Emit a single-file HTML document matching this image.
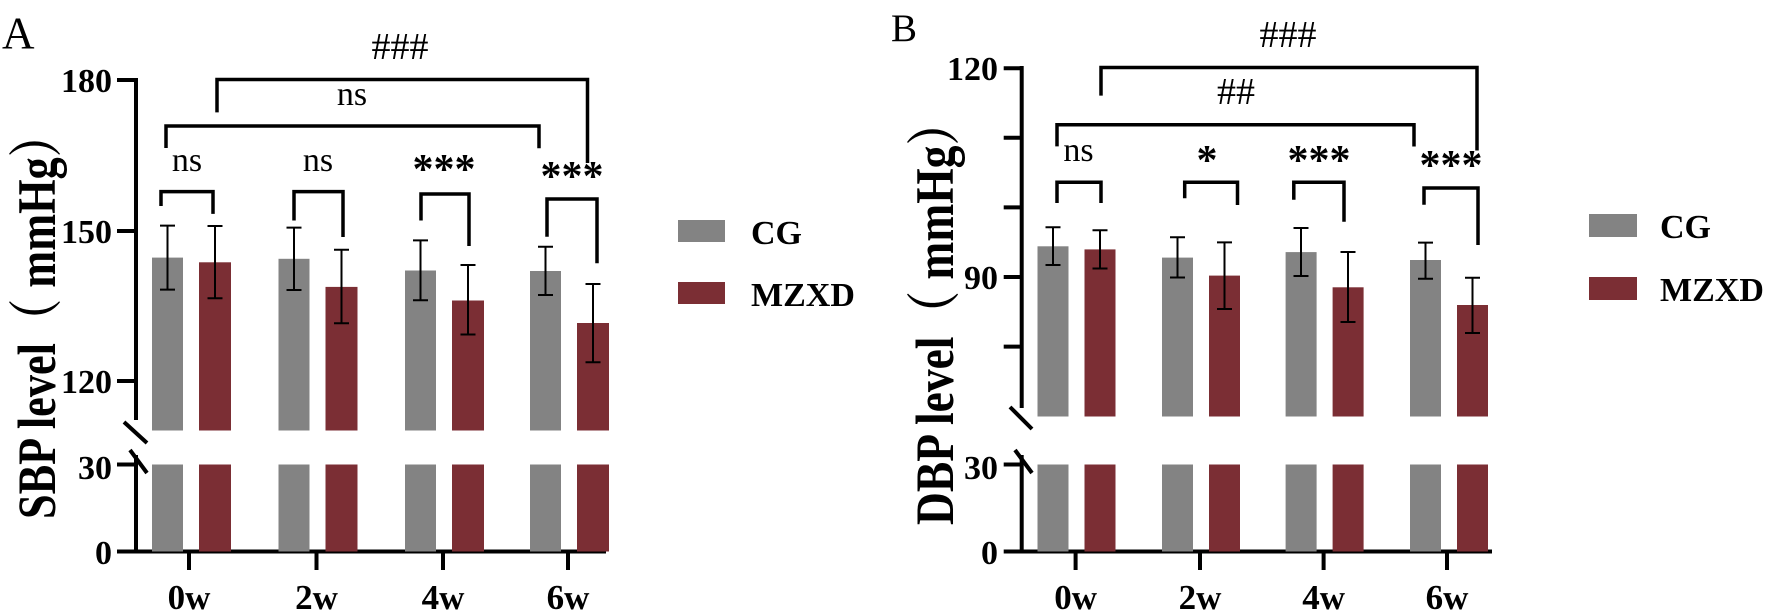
<!DOCTYPE html>
<html><head><meta charset="utf-8"><style>
html,body{margin:0;padding:0;background:#fff}
svg{display:block}
text{font-family:"Liberation Serif","Noto Serif CJK SC",serif;fill:#000}
.b{font-weight:bold}
</style></head><body>
<svg width="1772" height="612" viewBox="0 0 1772 612" xmlns="http://www.w3.org/2000/svg">
<g stroke="#000" fill="none" stroke-linecap="butt">
<path d="M136 78 V420" stroke-width="4"/>
<path d="M136 455 V551.5" stroke-width="4"/>
<path d="M117 80 H136 M117 231 H136 M117 381 H136 M117 464.5 H136" stroke-width="4"/>
<path d="M117 551.5 H606" stroke-width="4"/>
<path d="M189 551 V570 M316.5 551 V570 M443 551 V570 M568 551 V570" stroke-width="4"/>
<path d="M124 422 L147 443 M130 450 L147 473" stroke-width="4"/>
<path d="M1021.7 66 V408" stroke-width="4"/>
<path d="M1021.7 455 V551.5" stroke-width="4"/>
<path d="M1003.7 68.3 H1021.7 M1003.7 137.8 H1021.7 M1003.7 207.4 H1021.7 M1003.7 277 H1021.7 M1003.7 346.6 H1021.7 M1003.7 464.5 H1021.7" stroke-width="4"/>
<path d="M1003.7 551.5 H1492" stroke-width="4"/>
<path d="M1075.6 551 V570 M1200 551 V570 M1323.6 551 V570 M1447 551 V570" stroke-width="4"/>
<path d="M1010 407 L1032 429 M1015 450 L1032 473" stroke-width="4"/>
</g>

<g>
<rect x="152" y="257.6" width="31" height="172.9" fill="#838383"/><rect x="152" y="464.5" width="31" height="87" fill="#838383"/>
<rect x="199" y="262.3" width="32" height="168.2" fill="#7b2e34"/><rect x="199" y="464.5" width="32" height="87" fill="#7b2e34"/>
<rect x="278.5" y="258.8" width="31" height="171.7" fill="#838383"/><rect x="278.5" y="464.5" width="31" height="87" fill="#838383"/>
<rect x="325.5" y="286.9" width="32" height="143.6" fill="#7b2e34"/><rect x="325.5" y="464.5" width="32" height="87" fill="#7b2e34"/>
<rect x="405" y="270.5" width="31" height="160" fill="#838383"/><rect x="405" y="464.5" width="31" height="87" fill="#838383"/>
<rect x="452" y="300.5" width="32" height="130" fill="#7b2e34"/><rect x="452" y="464.5" width="32" height="87" fill="#7b2e34"/>
<rect x="530" y="271" width="31" height="159.5" fill="#838383"/><rect x="530" y="464.5" width="31" height="87" fill="#838383"/>
<rect x="577" y="323" width="32" height="107.5" fill="#7b2e34"/><rect x="577" y="464.5" width="32" height="87" fill="#7b2e34"/>
</g>
<g>
<rect x="1037.5" y="246.3" width="31" height="170.2" fill="#838383"/><rect x="1037.5" y="464.5" width="31" height="87" fill="#838383"/>
<rect x="1084.5" y="249.4" width="31" height="167.1" fill="#7b2e34"/><rect x="1084.5" y="464.5" width="31" height="87" fill="#7b2e34"/>
<rect x="1162" y="257.6" width="31" height="158.9" fill="#838383"/><rect x="1162" y="464.5" width="31" height="87" fill="#838383"/>
<rect x="1209" y="275.6" width="31" height="140.9" fill="#7b2e34"/><rect x="1209" y="464.5" width="31" height="87" fill="#7b2e34"/>
<rect x="1285.6" y="252.1" width="31" height="164.4" fill="#838383"/><rect x="1285.6" y="464.5" width="31" height="87" fill="#838383"/>
<rect x="1332.6" y="287.3" width="31" height="129.2" fill="#7b2e34"/><rect x="1332.6" y="464.5" width="31" height="87" fill="#7b2e34"/>
<rect x="1410" y="260" width="31" height="156.5" fill="#838383"/><rect x="1410" y="464.5" width="31" height="87" fill="#838383"/>
<rect x="1457" y="305" width="31" height="111.5" fill="#7b2e34"/><rect x="1457" y="464.5" width="31" height="87" fill="#7b2e34"/>
</g>

<g stroke="#000" stroke-width="2" fill="none">
<path d="M167.5 225.6 V289.6 M160 225.6 H175 M160 289.6 H175"/>
<path d="M215 226 V298.2 M207.5 226 H222.5 M207.5 298.2 H222.5"/>
<path d="M294 227.6 V290 M286.5 227.6 H301.5 M286.5 290 H301.5"/>
<path d="M341.5 249.8 V323.2 M334 249.8 H349 M334 323.2 H349"/>
<path d="M420.5 240.4 V300.2 M413 240.4 H428 M413 300.2 H428"/>
<path d="M468 265 V334.5 M460.5 265 H475.5 M460.5 334.5 H475.5"/>
<path d="M545.5 246.7 V295 M538 246.7 H553 M538 295 H553"/>
<path d="M593 284 V362.3 M585.5 284 H600.5 M585.5 362.3 H600.5"/>
<path d="M1053 227.2 V265 M1045.5 227.2 H1060.5 M1045.5 265 H1060.5"/>
<path d="M1100 230.3 V268.5 M1092.5 230.3 H1107.5 M1092.5 268.5 H1107.5"/>
<path d="M1177.5 237.3 V277.5 M1170 237.3 H1185 M1170 277.5 H1185"/>
<path d="M1224.5 242.4 V309 M1217 242.4 H1232 M1217 309 H1232"/>
<path d="M1301 228 V276 M1293.5 228 H1308.5 M1293.5 276 H1308.5"/>
<path d="M1348 252 V322 M1340.5 252 H1355.5 M1340.5 322 H1355.5"/>
<path d="M1425.5 242.6 V278.8 M1418 242.6 H1433 M1418 278.8 H1433"/>
<path d="M1472.5 277.8 V333 M1465 277.8 H1480 M1465 333 H1480"/>
</g>

<g stroke="#000" stroke-width="3.5" fill="none">
<path d="M161 206 V191.6 H213 V213.9"/>
<path d="M294 220.5 V191.6 H343 V237"/>
<path d="M421 220.5 V194 H469 V246"/>
<path d="M547 236.7 V199 H597 V263.3"/>
<path d="M166 148 V126 H539 V148.3"/>
<path d="M217 112.4 V79.5 H587.5 V163"/>
<path d="M1057 203 V182.3 H1101 V203"/>
<path d="M1184.7 198.3 V182.3 H1237.5 V205"/>
<path d="M1293.8 199.8 V182.3 H1344 V221.7"/>
<path d="M1424 204.8 V188 H1478 V245"/>
<path d="M1057 146.4 V124.7 H1414 V146.5"/>
<path d="M1101 95.6 V67.5 H1477 V150.5"/>
</g>

<g text-anchor="middle">
<text x="187" y="171" font-size="34">ns</text>
<text x="318" y="171" font-size="34">ns</text>
<text x="444" y="183" font-size="42" class="b">***</text>
<text x="572" y="190" font-size="42" class="b">***</text>
<text x="352" y="105" font-size="34">ns</text>
<text x="400" y="59" font-size="38">###</text>
<text x="1078.5" y="161" font-size="34">ns</text>
<text x="1207" y="174" font-size="42" class="b">*</text>
<text x="1319" y="174" font-size="42" class="b">***</text>
<text x="1451" y="179" font-size="42" class="b">***</text>
<text x="1236" y="104" font-size="38">##</text>
<text x="1288" y="47" font-size="38">###</text>
</g>

<text x="2" y="48.5" font-size="45">A</text>
<text x="891" y="41" font-size="39">B</text>

<g font-size="34" text-anchor="end">
<text x="112" y="92" class="b">180</text>
<text x="112" y="243" class="b">150</text>
<text x="112" y="393" class="b">120</text>
<text x="112" y="479" class="b">30</text>
<text x="112" y="564" class="b">0</text>
<text x="998" y="80" class="b">120</text>
<text x="998" y="289" class="b">90</text>
<text x="998" y="479" class="b">30</text>
<text x="998" y="564" class="b">0</text>
</g>
<g font-size="35" text-anchor="middle">
<text x="189" y="609" class="b">0w</text>
<text x="316.5" y="609" class="b">2w</text>
<text x="443" y="609" class="b">4w</text>
<text x="568" y="609" class="b">6w</text>
<text x="1075.6" y="609" class="b">0w</text>
<text x="1200" y="609" class="b">2w</text>
<text x="1323.6" y="609" class="b">4w</text>
<text x="1447" y="609" class="b">6w</text>
</g>

<text transform="translate(55,519) rotate(-90)" font-size="54" class="b" textLength="406" lengthAdjust="spacingAndGlyphs">SBP level（ mmHg）</text>
<text transform="translate(953,525) rotate(-90)" font-size="54" class="b" textLength="425" lengthAdjust="spacingAndGlyphs">DBP level（ mmHg）</text>

<rect x="678" y="220" width="47" height="22" fill="#838383"/>
<rect x="678" y="282" width="47" height="22" fill="#7b2e34"/>
<text x="751" y="244" font-size="34" class="b">CG</text>
<text x="751" y="306" font-size="34" class="b">MZXD</text>
<rect x="1589" y="214" width="48" height="23" fill="#838383"/>
<rect x="1589" y="277" width="48" height="23" fill="#7b2e34"/>
<text x="1660" y="238" font-size="34" class="b">CG</text>
<text x="1660" y="301" font-size="34" class="b">MZXD</text>
</svg>
</body></html>
